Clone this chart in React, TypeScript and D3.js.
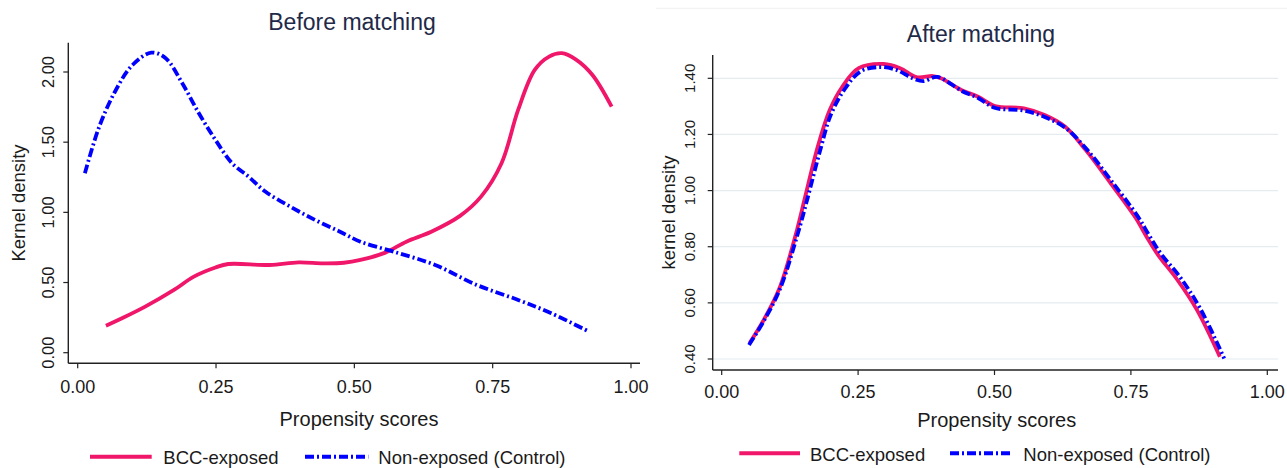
import React from "react";
import * as d3 from "d3";

// propensity score ticks shared by both panels
const xTicks = [0, 0.25, 0.5, 0.75, 1];
const beforeYTicks = [0, 0.5, 1, 1.5, 2];
const afterYTicks = [0.4, 0.6, 0.8, 1.0, 1.2, 1.4];

// before matching
const bccBeforeX = [0.051, 0.08, 0.122, 0.174, 0.21, 0.249, 0.272, 0.347, 0.399, 0.444, 0.481, 0.511, 0.556, 0.594, 0.639, 0.691, 0.729, 0.766, 0.796, 0.826, 0.852, 0.875, 0.9, 0.93, 0.965];
const bccBeforeY = [0.192, 0.245, 0.328, 0.447, 0.542, 0.607, 0.632, 0.625, 0.644, 0.637, 0.641, 0.661, 0.713, 0.791, 0.862, 0.975, 1.112, 1.35, 1.73, 2.015, 2.11, 2.134, 2.09, 1.98, 1.753];
const ctlBeforeX = [0.013, 0.039, 0.069, 0.099, 0.133, 0.159, 0.189, 0.219, 0.249, 0.279, 0.309, 0.339, 0.384, 0.429, 0.474, 0.511, 0.571, 0.646, 0.721, 0.796, 0.856, 0.924];
const ctlBeforeY = [1.279, 1.611, 1.872, 2.05, 2.138, 2.098, 1.92, 1.706, 1.516, 1.35, 1.254, 1.148, 1.041, 0.946, 0.862, 0.791, 0.72, 0.625, 0.483, 0.376, 0.281, 0.15];

// after matching
const bccAfterX = [0.051, 0.077, 0.107, 0.138, 0.153, 0.176, 0.198, 0.221, 0.251, 0.297, 0.327, 0.357, 0.387, 0.402, 0.44, 0.47, 0.501, 0.554, 0.592, 0.629, 0.667, 0.713, 0.758, 0.779, 0.8, 0.834, 0.871, 0.913];
const bccAfterY = [0.456, 0.539, 0.658, 0.86, 0.978, 1.156, 1.287, 1.37, 1.436, 1.451, 1.436, 1.404, 1.408, 1.4, 1.358, 1.334, 1.301, 1.293, 1.269, 1.228, 1.145, 1.026, 0.905, 0.835, 0.77, 0.685, 0.575, 0.408];
const ctlAfterX = [0.05, 0.077, 0.107, 0.14, 0.157, 0.18, 0.2, 0.225, 0.255, 0.29, 0.32, 0.35, 0.37, 0.395, 0.44, 0.47, 0.5, 0.554, 0.592, 0.629, 0.67, 0.716, 0.762, 0.783, 0.805, 0.84, 0.877, 0.921];
const ctlAfterY = [0.45, 0.535, 0.65, 0.85, 0.97, 1.14, 1.27, 1.36, 1.425, 1.44, 1.43, 1.4, 1.39, 1.405, 1.355, 1.33, 1.295, 1.285, 1.262, 1.225, 1.145, 1.03, 0.91, 0.842, 0.775, 0.692, 0.58, 0.402];

const seriesNames = ["BCC-exposed", "Non-exposed (Control)"];

const PINK = "#f0166a";
const BLUE = "#0000ff";
const DASH = "9,3,2,3";
const FONT = "'Liberation Sans', Arial, sans-serif";
const INK = "#1a1a1a";

const zip = (xs, ys) => xs.map((x, i) => [x, ys[i]]);

const panels = [
  {
    title: "Before matching",
    titleX: 352, titleY: 30,
    yLabel: "Kernel density", yLabelX: 18.3,
    xRange: [77.7, 631], yRange: [352.7, 72], yDomain: [0, 2],
    left: 68.3, right: 640, top: 42.7, bottom: 363.3,
    yTicks: beforeYTicks, yTickX: 47.7, yTickSize: 16.5,
    xTickBase: 392.7, xLabelX: 359, xLabelY: 426,
    grid: false,
    legendY: 456.7, legend: [90, 151.7, 163.3, 305, 368.3, 378.3],
    bcc: zip(bccBeforeX, bccBeforeY), ctl: zip(ctlBeforeX, ctlBeforeY),
  },
  {
    title: "After matching",
    titleX: 981, titleY: 41.6,
    yLabel: "kernel density", yLabelX: 668.3,
    xRange: [721.7, 1267.3], yRange: [359, 78.3], yDomain: [0.4, 1.4],
    left: 712.7, right: 1278, top: 55, bottom: 370,
    yTicks: afterYTicks, yTickX: 690, yTickSize: 15,
    xTickBase: 398.3, xLabelX: 996.7, xLabelY: 427,
    grid: true,
    legendY: 453.3, legend: [739.3, 800, 810, 950, 1012, 1023.3],
    bcc: zip(bccAfterX, bccAfterY), ctl: zip(ctlAfterX, ctlAfterY),
  },
];

function Panel({ p }) {
  const x = d3.scaleLinear().domain([0, 1]).range(p.xRange);
  const y = d3.scaleLinear().domain(p.yDomain).range(p.yRange);
  const line = d3
    .line()
    .x((d) => x(d[0]))
    .y((d) => y(d[1]))
    .curve(d3.curveCatmullRom.alpha(0.5));
  const midY = (p.top + p.bottom) / 2;
  const [l1, l2, t1, b1, b2, t2] = p.legend;

  return (
    <g fontFamily={FONT}>
      <text x={p.titleX} y={p.titleY} textAnchor="middle" fontSize={23} fill="#1e2a48">
        {p.title}
      </text>

      {p.grid &&
        p.yTicks.map((t) => (
          <line key={"g" + t} x1={p.left} x2={p.right} y1={y(t)} y2={y(t)} stroke="#e4ecef" strokeWidth={1.2} />
        ))}

      <line x1={p.left} x2={p.left} y1={p.top} y2={p.bottom} stroke="#222" strokeWidth={1.4} />
      <line x1={p.left} x2={p.right} y1={p.bottom} y2={p.bottom} stroke="#222" strokeWidth={1.4} />

      {p.yTicks.map((t) => (
        <g key={"y" + t}>
          <line x1={p.left - 5} x2={p.left} y1={y(t)} y2={y(t)} stroke="#222" strokeWidth={1.2} />
          <text
            transform={`translate(${p.yTickX},${y(t)}) rotate(-90)`}
            textAnchor="middle"
            dy="0.36em"
            fontSize={p.yTickSize}
            fill={INK}
          >
            {t.toFixed(2)}
          </text>
        </g>
      ))}

      {xTicks.map((t) => (
        <g key={"x" + t}>
          <line x1={x(t)} x2={x(t)} y1={p.bottom} y2={p.bottom + 5} stroke="#222" strokeWidth={1.2} />
          <text x={x(t)} y={p.xTickBase} textAnchor="middle" fontSize={18} fill={INK}>
            {t.toFixed(2)}
          </text>
        </g>
      ))}

      <text
        transform={`translate(${p.yLabelX},${midY}) rotate(-90)`}
        textAnchor="middle"
        dy="0.36em"
        fontSize={18.5}
        fill={INK}
      >
        {p.yLabel}
      </text>
      <text x={p.xLabelX} y={p.xLabelY} textAnchor="middle" fontSize={20} fill={INK}>
        Propensity scores
      </text>

      <path d={line(p.bcc)} fill="none" stroke={PINK} strokeWidth={3.8} strokeLinejoin="round" />
      <path d={line(p.ctl)} fill="none" stroke={BLUE} strokeWidth={3.8} strokeDasharray={DASH} />

      <line x1={l1} x2={l2} y1={p.legendY} y2={p.legendY} stroke={PINK} strokeWidth={4} />
      <text x={t1} y={p.legendY + 7.3} fontSize={18.5} fill={INK}>
        {seriesNames[0]}
      </text>
      <line x1={b1} x2={b2} y1={p.legendY} y2={p.legendY} stroke={BLUE} strokeWidth={4} strokeDasharray={DASH} />
      <text x={t2} y={p.legendY + 7.3} fontSize={18.5} fill={INK}>
        {seriesNames[1]}
      </text>
    </g>
  );
}

export default function App() {
  return (
    <svg
      width={1287}
      height={468}
      style={{ position: "absolute", left: 0, top: 0, background: "#fff" }}
    >
      <rect width={1287} height={468} fill="#fff" />
      <line x1={656} x2={1287} y1={8.3} y2={8.3} stroke="#f0f0f0" strokeWidth={1} />
      {panels.map((p) => (
        <Panel key={p.title} p={p} />
      ))}
    </svg>
  );
}
